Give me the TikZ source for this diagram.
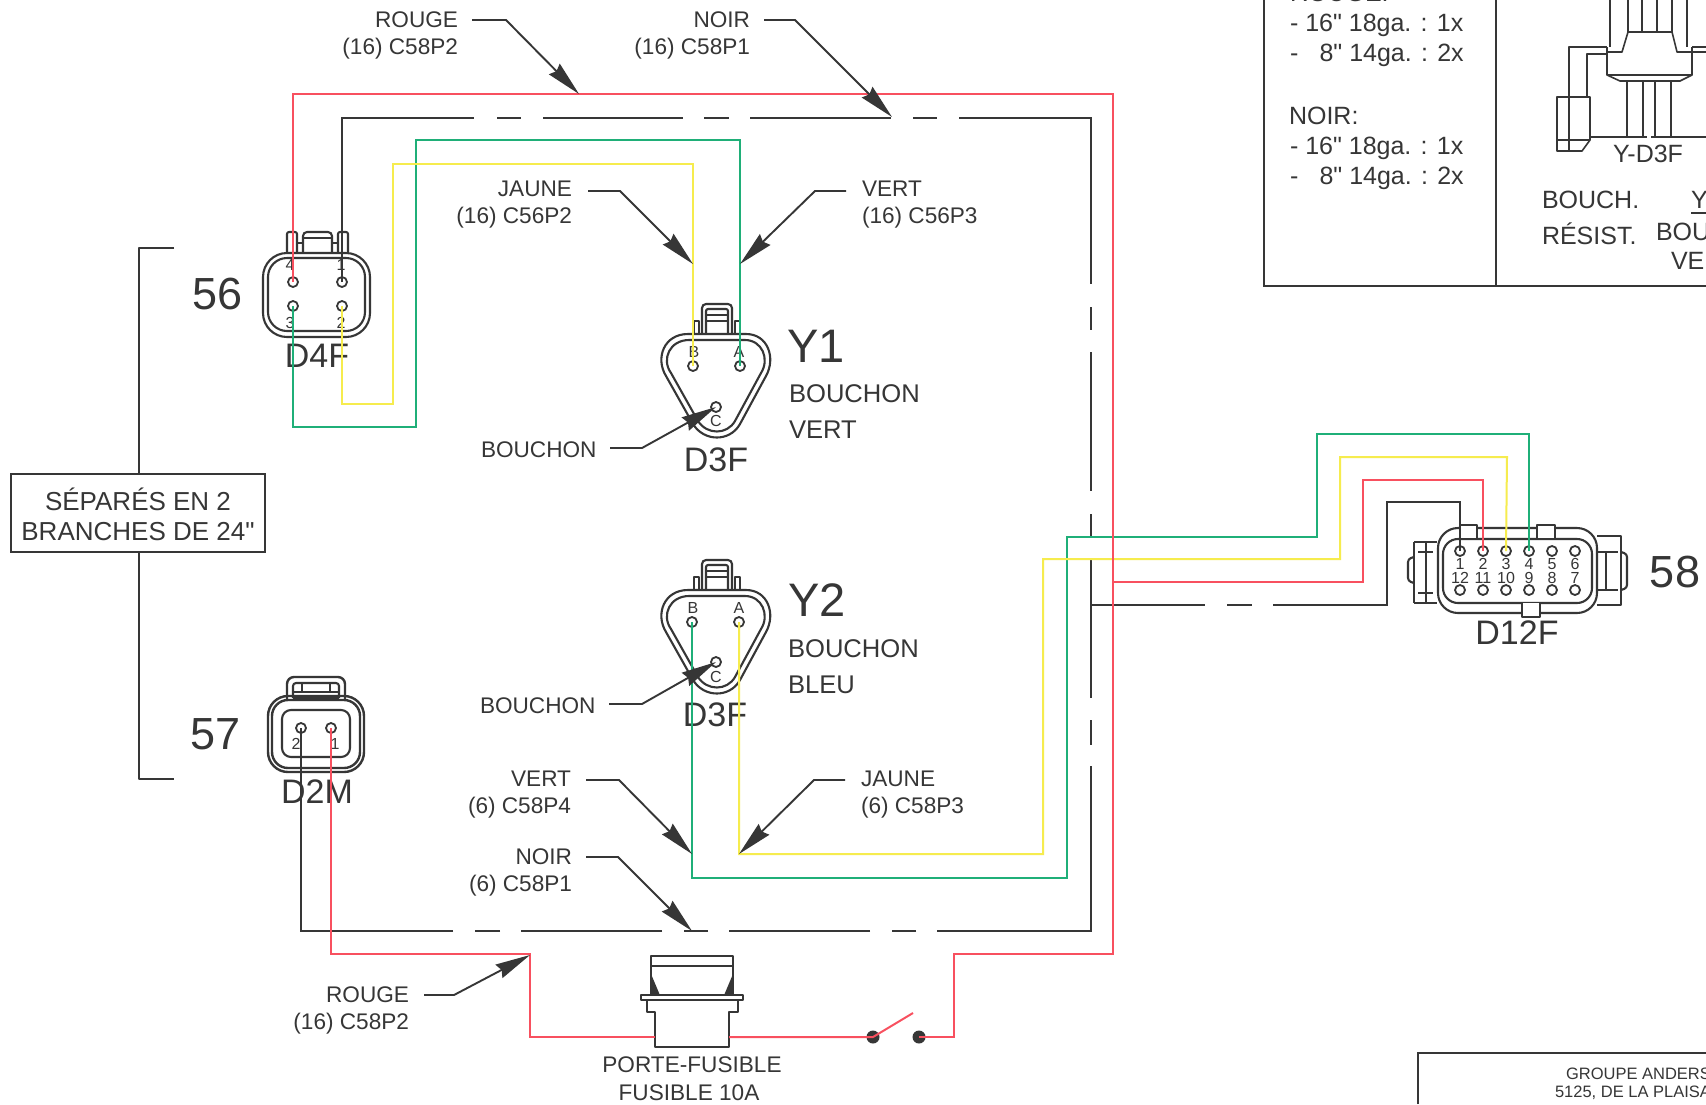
\documentclass[tikz,border=0pt]{standalone}
\usepackage{fontspec}
\setmainfont{Liberation Sans}
\usetikzlibrary{arrows.meta}
\definecolor{ink}{HTML}{363636}
\definecolor{wred}{HTML}{F8505F}
\definecolor{wgreen}{HTML}{1FAF78}
\definecolor{wyellow}{HTML}{F6EC4E}
\newcommand\fs[2]{\fontsize{#1}{#2}\selectfont}
\newcommand\dq{\XeTeXglyph\XeTeXcharglyph"22 }
\newcommand\ythree[1]{%
\begin{scope}[yshift=-#1pt]
\draw[body] (688,334) -- (746,334) .. controls (768,334) and (776,358) .. (766,376) -- (740,424) .. controls (730,442) and (704,442) .. (693,424) -- (666,376) .. controls (655,358) and (664,334) .. (688,334) -- cycle;
\draw[body] (689,340) -- (745,340) .. controls (762,340) and (770,359) .. (761,373) -- (735,421) .. controls (727,435) and (707,435) .. (698,421) -- (671,373) .. controls (661,359) and (670,340) .. (689,340) -- cycle;
\draw[body,rounded corners=4] (702,334) -- (702,304) -- (732,304) -- (732,334);
\draw[body,rounded corners=2] (706,334) -- (706,309) -- (728,309) -- (728,334);
\draw[body] (706,315) -- (728,315) (706,321) -- (728,321);
\draw[body] (694,334) -- (694,321) -- (699,321) -- (699,334) (735,334) -- (735,321) -- (740,321) -- (740,334);
\end{scope}}
\tikzset{
 x=1pt,y=-1pt,
 body/.style={draw=ink,line width=2.1pt,line join=round},
 pinc/.style={circle,draw=ink,line width=1.8pt,minimum size=10pt,inner sep=0pt},
 contact/.style={circle,fill=ink,minimum size=13pt,inner sep=0pt},
 blk/.style={draw=ink,line width=2.2pt,line join=miter},
 redw/.style={draw=wred,line width=2pt},
 grnw/.style={draw=wgreen,line width=2pt},
 yelw/.style={draw=wyellow,line width=2pt},
 lead/.style={draw=ink,line width=1.9pt,-{Stealth[length=35pt,width=15pt,inset=3pt]}},
 txt/.style={inner sep=0pt,outer sep=0pt,text=ink,font=\fs{22.6}{27}},
 pn/.style={inner sep=0pt,outer sep=0pt,text=ink,font=\fs{16}{16}},
 conn/.style={inner sep=0pt,outer sep=0pt,text=ink,font=\fs{34}{34}},
 num/.style={inner sep=0pt,outer sep=0pt,text=ink,font=\fs{45}{45}},
 ylab/.style={inner sep=0pt,outer sep=0pt,text=ink,font=\fs{47}{47}},
 big/.style={inner sep=0pt,outer sep=0pt,text=ink,font=\fs{25.6}{36},align=left},
 rlab/.style={txt,align=right,anchor=east},
 llab/.style={txt,align=left,anchor=west},
}
\begin{document}
\begin{tikzpicture}
\clip (0,0) rectangle (1706,1104);
\fill[white] (0,0) rectangle (1706,1104);

% --- top right panel (cropped)
\draw[blk] (1264,0) -- (1264,286) -- (1706,286) (1496,0) -- (1496,286);
\node[txt,anchor=west,font=\fs{25}{25}] (trouge) at (1290,-7) {ROUGE:};
\node[txt,anchor=west,font=\fs{25}{25}] (t1) at (1290,25) {- 16\dq\ 18ga. : 1x};
\node[txt,anchor=west,font=\fs{25}{25}] (t2) at (1290,55) {-\hspace{.85em}8\dq\ 14ga. : 2x};
\node[txt,anchor=west,font=\fs{25}{25}] (t3) at (1289,116) {NOIR:};
\node[txt,anchor=west,font=\fs{25}{25}] (t4) at (1290,148) {- 16\dq\ 18ga. : 1x};
\node[txt,anchor=west,font=\fs{25}{25}] (t5) at (1290,178) {-\hspace{.85em}8\dq\ 14ga. : 2x};
\draw[body,line width=1.6pt] (1610,0) -- (1610,47) (1628,0) -- (1628,32) (1642,0) -- (1642,32) (1657,0) -- (1657,32) (1672,0) -- (1672,32) (1687,0) -- (1687,47);
\draw[body,line width=1.6pt] (1607,47) -- (1607,75) -- (1620,81) -- (1680,81) -- (1692,75) -- (1692,47);
\draw[body,line width=1.6pt] (1607,75) -- (1692,75);
\draw[body,line width=1.6pt] (1607,52) -- (1622,52) -- (1628,32) -- (1672,32) -- (1677,52) -- (1692,52);
\draw[body,line width=1.6pt] (1607,47) -- (1569,47) -- (1569,97) (1607,54) -- (1587,54) -- (1587,97);
\draw[body,line width=1.6pt] (1692,47) -- (1706,47) (1692,52) -- (1706,52);
\draw[body,line width=1.6pt] (1557,97) rectangle (1590,140);
\draw[body,line width=1.6pt] (1557,140) -- (1557,151) -- (1582,151) -- (1590,140) (1569,97) -- (1569,151);
\draw[body,line width=1.6pt] (1627,81) -- (1627,137) (1643,81) -- (1643,137) (1655,81) -- (1655,137) (1671,81) -- (1671,137);
\draw[body,line width=2.2pt] (1590,137) -- (1647,137) (1651,137) -- (1706,137);
\node[txt,font=\fs{25}{25}] (yd3f) at (1648,154) {Y-D3F};
\node[txt,anchor=west,font=\fs{25}{25}] (bch) at (1542,200) {BOUCH.};
\node[txt,anchor=west,font=\fs{25}{25}] (res) at (1542,234) {RÉSIST.};
\node[txt,anchor=west,font=\fs{25}{25}] (ycut) at (1691,200) {Y};
\draw[ink,line width=1.5pt] (1691,213) -- (1706,213);
\node[txt,anchor=west,font=\fs{25}{25}] (bcut) at (1656,232) {BOU};
\node[txt,anchor=west,font=\fs{25}{25}] (vcut) at (1671,261) {VE};

% --- bottom right title block (cropped)
\draw[blk] (1418,1104) -- (1418,1053) -- (1706,1053);
\node[txt,anchor=west,font=\fs{16.5}{17}] (g1) at (1566,1074) {GROUPE ANDERS};
\node[txt,anchor=west,font=\fs{16.5}{17}] (g2) at (1555,1093) {5125, DE LA PLAISA};

% --- bracket
\node[draw=ink,line width=2pt,minimum width=254pt,minimum height=78pt,inner sep=0pt,align=center,text=ink,font=\fs{26}{30}] (box) at (138,513) {\rule{0pt}{26pt}SÉPARÉS EN 2\\BRANCHES DE 24\dq};
\coordinate (brt) at (174,248);
\coordinate (brb) at (174,779);
\draw[body] (brt) -- (139,248) -- (box.north -| 139,0);
\draw[body] (box.south -| 139,0) -- (139,779) -- (brb);

% --- numbers
\node[num] (n56) at (218,294) {56};
\node[num] (n57) at (216,734) {57};
\node[num] (n58) at (1675,572) {58};
\node[ylab] (ly1) at (816,346) {Y1};
\node[ylab] (ly2) at (817,600) {Y2};
\node[big,anchor=west] (tv) at (789,412) {BOUCHON\\VERT};
\node[big,anchor=west] (tb) at (788,667) {BOUCHON\\BLEU};

% --- D4F
\draw[body,rounded corners=24] (263,253) rectangle (370,337);
\draw[body,rounded corners=19] (268,258) rectangle (365,331);
\draw[body,rounded corners=2] (287,253) -- (287,232) -- (297,232) -- (297,253);
\draw[body,rounded corners=2] (338,253) -- (338,232) -- (348,232) -- (348,253);
\draw[body,rounded corners=4] (303,253) -- (303,232) -- (332,232) -- (332,253);
\draw[body] (303,238) -- (332,238) (297,243) -- (303,243) (332,243) -- (338,243);
\node[pinc] (n4) at (293,282) {};
\node[pinc] (n1) at (342,282) {};
\node[pinc] (n3) at (293,306) {};
\node[pinc] (n2) at (342,306) {};
\node[pn] (l4) at (290,265) {4};
\node[pn] (l1) at (341,265) {1};
\node[pn] (l3) at (290,323) {3};
\node[pn] (l2) at (341,323) {2};
\node[conn] (td4f) at (317,356) {D4F};

% --- Y1 / Y2
\ythree{0}
\ythree{256}
\node[pinc] (y1b) at (693,366) {};
\node[pinc] (y1a) at (740,366) {};
\node[pinc] (y1c) at (716,407) {};
\node[pn] (ly1b) at (694,352) {B};
\node[pn] (ly1a) at (739,352) {A};
\node[pn] (ly1c) at (716,421) {C};
\node[conn] (td3a) at (716,460) {D3F};
\node[pinc] (y2b) at (692,622) {};
\node[pinc] (y2a) at (739,622) {};
\node[pinc] (y2c) at (716,662) {};
\node[pn] (ly2b) at (693,608) {B};
\node[pn] (ly2a) at (739,608) {A};
\node[pn] (ly2c) at (716,677) {C};
\node[conn] (td3b) at (715,715) {D3F};

% --- D2M
\draw[body,line width=2.4pt,rounded corners=20] (268,696) rectangle (364,772);
\draw[body,line width=2.4pt,rounded corners=16] (272,700) rectangle (360,768);
\draw[body,rounded corners=9] (282,710) rectangle (350,757);
\draw[body,line width=2.4pt,rounded corners=7] (287,700) -- (287,677) -- (345,677) -- (345,700);
\draw[body,rounded corners=3] (293,698) -- (293,683) -- (339,683) -- (339,698);
\draw[body] (293,692) -- (339,692) (293,698) -- (339,698) (302,683) -- (302,692) (330,683) -- (330,692);
\node[pinc] (m2) at (301,728) {};
\node[pinc] (m1) at (331,728) {};
\node[pn] (lm2) at (296,744) {2};
\node[pn] (lm1) at (335,744) {1};
\node[conn] (td2m) at (317,792) {D2M};

% --- D12F
\draw[body] (1414,542) -- (1437,542) (1414,603) -- (1437,603) (1414,542) -- (1414,603);
\draw[body] (1418,552) -- (1433,552) (1418,593) -- (1433,593) (1426,542) -- (1426,603);
\draw[body,rounded corners=3] (1414,557) -- (1408,559) -- (1408,581) -- (1414,583);
\draw[body] (1597,536) -- (1621,536) -- (1621,605) -- (1597,605);
\draw[body] (1597,552) -- (1618,552) (1597,590) -- (1618,590) (1606,552) -- (1606,590);
\draw[body,rounded corners=3] (1621,552) -- (1627,554) -- (1627,588) -- (1621,590);
\draw[body,rounded corners=20,fill=white] (1438,528) rectangle (1597,613);
\draw[body,rounded corners=15] (1443,539) rectangle (1592,603);
\draw[body,fill=white] (1460,538) -- (1460,525) -- (1477,525) -- (1477,538);
\draw[body,fill=white] (1537,538) -- (1537,525) -- (1555,525) -- (1555,538);
\draw[body,fill=white] (1522,603) -- (1522,617) -- (1540,617) -- (1540,603);
\node[pinc] (d1) at (1460,551) {};
\node[pinc] (d2) at (1483,551) {};
\node[pinc] (d3) at (1506,551) {};
\node[pinc] (d4) at (1529,551) {};
\node[pinc] (d5) at (1552,551) {};
\node[pinc] (d6) at (1575,551) {};
\node[pinc] (d12) at (1460,590) {};
\node[pinc] (d11) at (1483,590) {};
\node[pinc] (d10) at (1506,590) {};
\node[pinc] (d9) at (1529,590) {};
\node[pinc] (d8) at (1552,590) {};
\node[pinc] (d7) at (1575,590) {};
\node[pn] (ld1) at (1460,564) {1};
\node[pn] (ld2) at (1483,564) {2};
\node[pn] (ld3) at (1506,564) {3};
\node[pn] (ld4) at (1529,564) {4};
\node[pn] (ld5) at (1552,564) {5};
\node[pn] (ld6) at (1575,564) {6};
\node[pn] (ld12) at (1460,578) {12};
\node[pn] (ld11) at (1483,578) {11};
\node[pn] (ld10) at (1506,578) {10};
\node[pn] (ld9) at (1529,578) {9};
\node[pn] (ld8) at (1552,578) {8};
\node[pn] (ld7) at (1575,578) {7};
\node[conn] (td12) at (1517,633) {D12F};

% --- fuse and switch
\draw[body,line width=2.2pt] (651,956) rectangle (733,966);
\draw[body,line width=2.2pt] (651,966) -- (651,995) (733,966) -- (733,995);
\draw[body,line width=1.6pt,fill=ink] (651,976) -- (659,995) -- (651,995) -- cycle (733,976) -- (725,995) -- (733,995) -- cycle;
\draw[body,line width=2.2pt] (641,995) rectangle (743,1000);
\draw[body,line width=2.2pt] (647,1000) -- (647,1012) -- (655,1012) -- (655,1047) -- (729,1047) -- (729,1012) -- (738,1012) -- (738,1000);
\coordinate (fuseL) at (655,1037);
\coordinate (fuseR) at (729,1037);
\node[contact] (sw1) at (873,1037) {};
\node[contact] (sw2) at (919,1037) {};
\coordinate (swtip) at (913,1013);
\node[txt] (tf1) at (692,1065) {PORTE-FUSIBLE};
\node[txt] (tf2) at (689,1093) {FUSIBLE 10A};

% --- black wires
\draw[blk] (n1.center) -- (342,118) -- (474,118) (497,118) -- (521,118) (543,118) -- (683,118) (704,118) -- (729,118) (750,118) -- (891,118) (913,118) -- (937,118) (959,118) -- (1091,118) -- (1091,284) (1091,307) -- (1091,330) (1091,352) -- (1091,491) (1091,514) -- (1091,537) (1091,560) -- (1091,698) (1091,720) -- (1091,745) (1091,766) -- (1091,931) -- (937,931) (916,931) -- (892,931) (870,931) -- (729,931) (708,931) -- (684,931) (662,931) -- (521,931) (500,931) -- (475,931) (453,931) -- (301,931) -- (m2.center);
\draw[blk] (1091,605) -- (1205,605) (1227,605) -- (1252,605) (1273,605) -- (1387,605) -- (1387,502) -- (1460,502) -- (d1.center);

% --- green wires
\draw[grnw] (n3.center) -- (293,427) -- (416,427) -- (416,140) -- (740,140) -- (y1a.center);
\draw[grnw] (y2b.center) -- (692,878) -- (1067,878) -- (1067,537) -- (1317,537) -- (1317,434) -- (1529,434) -- (d4.center);
% --- yellow wires
\draw[yelw] (n2.center) -- (342,404) -- (393,404) -- (393,164) -- (693,164) -- (y1b.center);
\draw[yelw] (y2a.center) -- (739,854) -- (1043,854) -- (1043,559) -- (1340,559) -- (1340,457) -- (1507,457) -- (d3.center);
% --- red wires
\draw[redw] (n4.center) -- (293,94) -- (1113,94) -- (1113,954) -- (954,954) -- (954,1037) -- (sw2.center);
\draw[redw] (1113,582) -- (1363,582) -- (1363,480) -- (1483,480) -- (d2.center);
\draw[redw] (m1.center) -- (331,954) -- (530,954) -- (530,1037) -- (fuseL);
\draw[redw] (fuseR) -- (sw1.center) -- (swtip);

% --- labels with leaders
\coordinate (a1) at (472,20); \coordinate (t1x) at (579,94);
\node[rlab] (ll1) at (458,35) {ROUGE\\(16) C58P2};
\draw[lead] (a1) -- (506,20) -- (t1x);
\coordinate (a2) at (764,20); \coordinate (t2x) at (892,117);
\node[rlab] (ll2) at (750,35) {NOIR\\(16) C58P1};
\draw[lead] (a2) -- (795,20) -- (t2x);
\coordinate (a3) at (588,191); \coordinate (t3x) at (693,264);
\node[rlab] (ll3) at (572,205) {JAUNE\\(16) C56P2};
\draw[lead] (a3) -- (620,191) -- (t3x);
\coordinate (a4) at (846,191); \coordinate (t4x) at (740,264);
\node[llab] (ll4) at (862,205) {VERT\\(16) C56P3};
\draw[lead] (a4) -- (815,191) -- (t4x);
\coordinate (a5) at (610,448);
\node[txt,anchor=west] (ll5) at (481,450) {BOUCHON};
\draw[lead] (a5) -- (642,448) -- (y1c.center);
\coordinate (a6) at (609,704);
\node[txt,anchor=west] (ll6) at (480,706) {BOUCHON};
\draw[lead] (a6) -- (642,704) -- (y2c.center);
\coordinate (a7) at (586,780); \coordinate (t7x) at (692,854);
\node[rlab] (ll7) at (571,795) {VERT\\(6) C58P4};
\draw[lead] (a7) -- (619,780) -- (t7x);
\coordinate (a8) at (845,780); \coordinate (t8x) at (739,854);
\node[llab] (ll8) at (861,795) {JAUNE\\(6) C58P3};
\draw[lead] (a8) -- (814,780) -- (t8x);
\coordinate (a9) at (586,857); \coordinate (t9x) at (692,931);
\node[rlab] (ll9) at (572,872) {NOIR\\(6) C58P1};
\draw[lead] (a9) -- (618,857) -- (t9x);
\coordinate (a10) at (424,995); \coordinate (t10x) at (530,955);
\node[rlab] (ll10) at (409,1010) {ROUGE\\(16) C58P2};
\draw[lead] (a10) -- (454,995) -- (t10x);
\end{tikzpicture}
\end{document}
